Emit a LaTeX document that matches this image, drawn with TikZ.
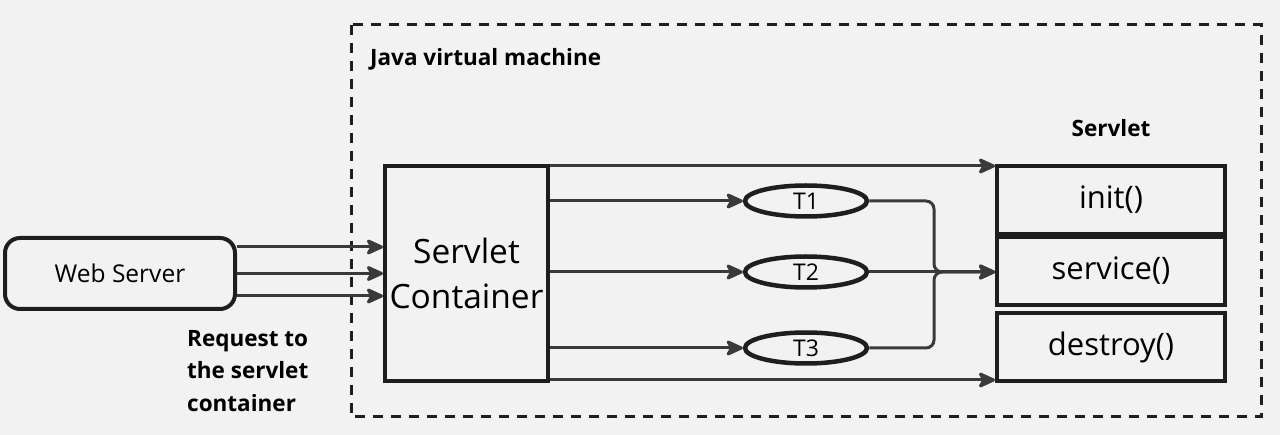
\documentclass[tikz,border=0pt]{standalone}
\usepackage{fontspec}
\setmainfont{Open Sans}
\usetikzlibrary{arrows.meta,shapes.geometric}
\definecolor{bg}{HTML}{F2F2F2}
\definecolor{ink}{HTML}{1E1E1E}
\definecolor{wire}{HTML}{3A3A3A}
\begin{document}
\begin{tikzpicture}[x=1pt,y=-1pt,
    box/.style={draw=ink,line width=4pt,inner sep=0pt},
    thread/.style={ellipse,draw=ink,line width=4.5pt,minimum width=122pt,
      minimum height=31pt,inner sep=0pt,font=\fontsize{23}{26}\selectfont},
    method/.style={box,minimum width=228pt,minimum height=68pt,
      font=\fontsize{31}{36}\selectfont},
    flow/.style={draw=wire,line width=3pt,
      -{Stealth[length=20pt,width=18pt,inset=5pt,round]}},
    tag/.style={inner sep=0pt,font=\bfseries\fontsize{22.5}{32.5}\selectfont}]
  \fill[bg] (0,0) rectangle (1280,435);
  \useasboundingbox (0,0) rectangle (1280,435);
  % java virtual machine
  \draw[ink,line width=3pt,dash pattern=on 10pt off 8pt] (351,25) rectangle (1261,417);
  \node[tag,anchor=west] (jvm) at (370,59) {Java virtual machine};
  \node[tag] (servlet) at (1111,128) {Servlet};
  \draw
    (120,273.5) node[box,rounded corners=15pt,minimum width=230pt,minimum height=71pt,
      font=\fontsize{24.5}{28}\selectfont] (ws) {Web Server}
    (466.5,273.5) node[box,minimum width=163pt,minimum height=215pt,align=center,
      font=\fontsize{33.5}{45}\selectfont] (sc) {Servlet\\Container}
    (806,201) node[thread] (t1) {T1}
    (806,272) node[thread] (t2) {T2}
    (806,348) node[thread] (t3) {T3}
    (1111,200) node[method] (init) {init()}
    (1111,271) node[method] (service) {service()}
    (1111,347) node[method] (destroy) {destroy()};
  \node[tag,anchor=north west,align=left] (req) at (187,330)
    {Request to\\the servlet\\container};
  \coordinate (merge) at (934,272);
  % requests
  \draw[flow] ([yshift=26.5pt]ws.east) -- ([yshift=26.5pt]sc.west);
  \draw[flow] (ws.east) -- (sc.west);
  \draw[flow] ([yshift=-22.5pt]ws.east) -- ([yshift=-22.5pt]sc.west);
  % threads
  \draw[flow] ([yshift=-2pt]sc.east |- init.north west) -- ([yshift=-2pt]init.north west);
  \draw[flow] (sc.east |- t1) -- (t1.west);
  \draw[flow] (sc.east |- t2) -- (t2.west);
  \draw[flow] (sc.east |- t3) -- (t3.west);
  \draw[flow] ([yshift=3pt]sc.east |- destroy.south west) -- ([yshift=3pt]destroy.south west);
  \begin{scope}[rounded corners=8pt]
    \draw[flow] (t1.east) -| (merge) -- (service.west |- merge);
    \draw[flow] (t2.east) -- (service.west |- merge);
    \draw[flow] (t3.east) -| (merge) -- (service.west |- merge);
  \end{scope}
\end{tikzpicture}
\end{document}
